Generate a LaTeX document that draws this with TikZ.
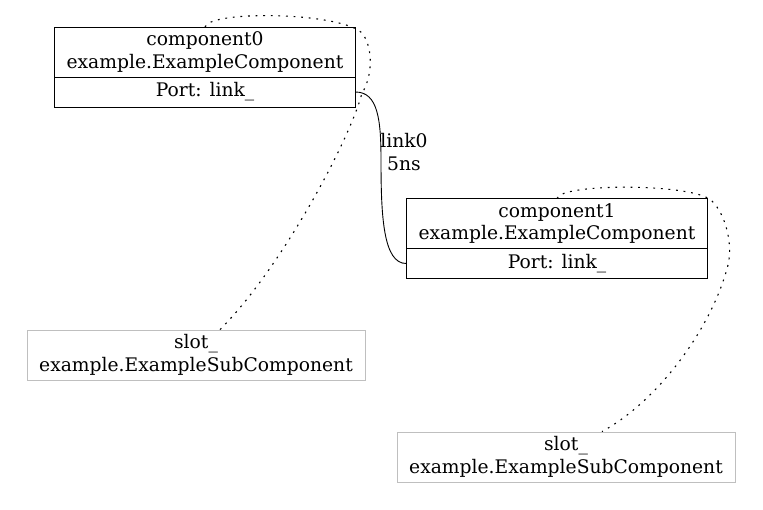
\documentclass[tikz,border=0pt]{standalone}
\usepackage{fontspec}
\newfontfamily\diagfont{DejaVu Serif}
\usetikzlibrary{positioning}

\begin{document}
\begin{tikzpicture}[x=1pt, y=-1pt,
    every node/.style={font=\diagfont\fontsize{18.7}{22.5}\selectfont},
    comphead/.style={draw, line width=0.9pt, minimum width=301pt, minimum height=50pt, inner sep=0pt, outer sep=0pt, align=center},
    compport/.style={draw, line width=0.9pt, minimum width=301pt, minimum height=30pt, inner sep=0pt, outer sep=0pt},
    slotbox/.style={draw=gray!50, line width=0.9pt, minimum width=338pt, minimum height=50pt, inner sep=0pt, align=center},
    subedge/.style={line width=1.1pt, dash pattern=on 1.8pt off 5.8pt},
    linkedge/.style={line width=0.9pt}]
    \useasboundingbox (0,0) rectangle (763,509);

    % Components
    \node[comphead] (comp0) at (205,52) {component0\\example.ExampleComponent};
    \node[compport, below=0pt of comp0] (comp0port) {Port: link\_};
    \node[comphead] (comp1) at (557,223.5) {component1\\example.ExampleComponent};
    \node[compport, below=0pt of comp1] (comp1port) {Port: link\_};

    % Subcomponents
    \node[slotbox] (slot0) at (196,355) {slot\_\\example.ExampleSubComponent};
    \node[slotbox] (slot1) at (566,457) {slot\_\\example.ExampleSubComponent};

    % Link between ports
    \draw[linkedge] (comp0port.east) .. controls (378,92) and (381,120) .. (381,160)
        .. controls (381,215) and (383,264) .. (comp1port.west);
    \node[align=center] (link0) at (404,152) {link0\\5ns};

    % Subcomponent edges
    \draw[subedge] (comp0.north) .. controls (210,10) and (340,12) .. (362,33)
        .. controls (374,48) and (372,78) .. (362,93)
        .. controls (350,140) and (280,270) .. ([xshift=24pt]slot0.north);
    \draw[subedge] (comp1.north) .. controls (560,183) and (695,183) .. (712,201)
        .. controls (726,215) and (733,245) .. (728,265)
        .. controls (713,325) and (660,400) .. ([xshift=36pt]slot1.north);
\end{tikzpicture}
\end{document}
